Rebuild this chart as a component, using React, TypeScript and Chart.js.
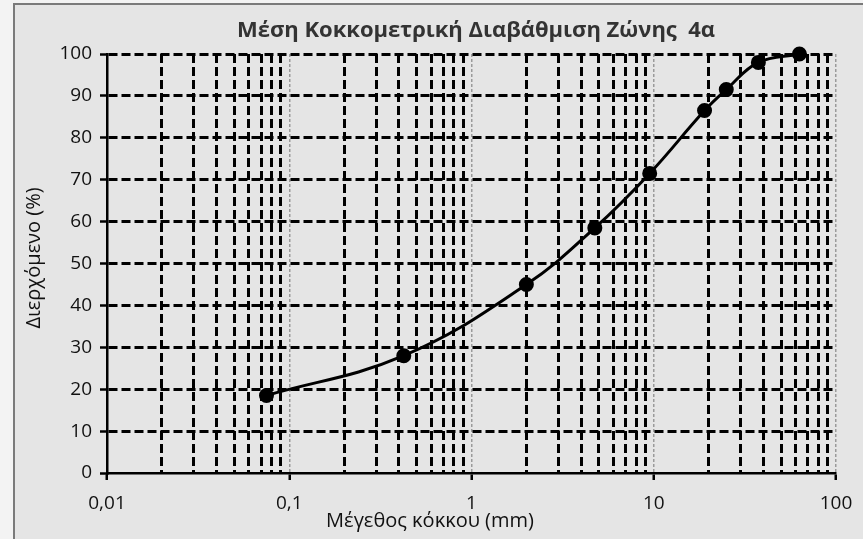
import { useEffect, useRef } from "react";
import { Chart, registerables } from "chart.js";

Chart.register(...registerables);

// ---- data ----
const sieveSizes = [0.075, 0.425, 2, 4.75, 9.5, 19, 25, 37.5, 63];
const passing = [18.5, 28, 45, 58.5, 71.5, 86.5, 91.5, 98, 100];

const decades = [0.01, 0.1, 1, 10, 100];
const decadeLabels = ["0,01", "0,1", "1", "10", "100"];
const minorMultipliers = [2, 3, 4, 5, 6, 7, 8, 9];
const yTickValues = [0, 10, 20, 30, 40, 50, 60, 70, 80, 90, 100];

const titleText = "Μέση Κοκκομετρική Διαβάθμιση Ζώνης  4α";
const xTitleText = "Μέγεθος κόκκου (mm)";
const yTitleText = "Διερχόμενο (%)";

const FONT = "'Open Sans', 'Noto Sans', sans-serif";

type TickDef = { value: number; major: boolean; label: string };

function buildXTicks(): TickDef[] {
  const out: TickDef[] = [];
  decades.forEach((d, i) => {
    out.push({ value: d, major: true, label: decadeLabels[i] });
    if (i < decades.length - 1) {
      minorMultipliers.forEach((m) => {
        out.push({ value: +(d * m).toPrecision(6), major: false, label: "" });
      });
    }
  });
  return out;
}

const decoPlugin = {
  id: "deco",
  beforeDraw(chart: any) {
    const { ctx, width, height } = chart;
    ctx.save();
    ctx.fillStyle = "#f3f3f3";
    ctx.fillRect(0, 0, width, height);
    ctx.fillStyle = "#e5e5e5";
    ctx.fillRect(14, 4, width - 14, height - 4);
    ctx.strokeStyle = "#7a7a7a";
    ctx.lineWidth = 2;
    ctx.beginPath();
    ctx.moveTo(14, height);
    ctx.lineTo(14, 4);
    ctx.lineTo(width, 4);
    ctx.stroke();
    ctx.restore();
  },
  afterDraw(chart: any) {
    const { ctx } = chart;
    ctx.save();
    ctx.fillStyle = "#333";
    ctx.textAlign = "center";
    ctx.textBaseline = "middle";
    ctx.font = `bold 22px ${FONT}`;
    ctx.fillText(titleText, 476, 31);
    ctx.font = `20px ${FONT}`;
    ctx.fillStyle = "#111";
    ctx.fillText(xTitleText, 430, 521);
    ctx.translate(34, 258);
    ctx.rotate(-Math.PI / 2);
    ctx.font = `20px ${FONT}`;
    ctx.fillText(yTitleText, 0, 0);
    ctx.restore();
  },
};

export default function App() {
  const canvasRef = useRef<HTMLCanvasElement | null>(null);

  useEffect(() => {
    document.body.style.margin = "0";
    const canvas = canvasRef.current;
    if (!canvas) return;
    const xTicks = buildXTicks();

    const chart = new Chart(canvas, {
      type: "scatter",
      data: {
        datasets: [
          {
            data: sieveSizes.map((x, i) => ({ x, y: passing[i] })),
            showLine: true,
            borderColor: "#000",
            backgroundColor: "#000",
            borderWidth: 3,
            pointRadius: 6,
            pointHoverRadius: 6,
            pointBackgroundColor: "#000",
            pointBorderColor: "#000",
            tension: 0.4,
            clip: false,
          } as any,
        ],
      },
      options: {
        responsive: false,
        animation: false,
        devicePixelRatio: 1,
        layout: { padding: { left: 14, right: 27, top: 54, bottom: 0 } },
        plugins: {
          legend: { display: false },
          tooltip: { enabled: false },
          title: { display: false },
        },
        scales: {
          x: {
            type: "logarithmic",
            min: 0.01,
            max: 100,
            afterBuildTicks: (scale: any) => {
              scale.ticks = xTicks.map((t) => ({ value: t.value, major: t.major, label: t.label }));
            },
            afterFit: (scale: any) => {
              scale.height = 66;
              scale.paddingLeft = 0;
              scale.paddingRight = 0;
            },
            ticks: {
              autoSkip: false,
              maxRotation: 0,
              minRotation: 0,
              padding: 12,
              color: "#111",
              font: { family: FONT, size: 19 },
              callback: (_v: any, i: number) => (xTicks[i] ? xTicks[i].label : ""),
            },
            grid: {
              drawOnChartArea: true,
              color: (c: any) => {
                if (c.index === 0) return "rgba(0,0,0,0)";
                return xTicks[c.index] && xTicks[c.index].major ? "#9a9a9a" : "#000";
              },
              lineWidth: (c: any) => (xTicks[c.index] && xTicks[c.index].major ? 1.5 : 3),
              tickColor: (c: any) => (xTicks[c.index] && xTicks[c.index].major ? "#000" : "rgba(0,0,0,0)"),
              tickLength: 7,
              tickWidth: 2.5,
            },
            border: {
              display: true,
              color: "#000",
              width: 2.5,
              dash: (c: any) => (xTicks[c.index] && xTicks[c.index].major ? [3, 2] : [9, 4]),
            } as any,
          },
          y: {
            type: "linear",
            min: 0,
            max: 100,
            afterBuildTicks: (scale: any) => {
              scale.ticks = yTickValues.map((v) => ({ value: v }));
            },
            afterFit: (scale: any) => {
              scale.width = 93;
              scale.paddingTop = 0;
              scale.paddingBottom = 0;
            },
            ticks: {
              padding: 8,
              color: "#111",
              font: { family: FONT, size: 19 },
              callback: (v: any) => String(v),
            },
            grid: {
              color: (c: any) => (c.index === 0 ? "rgba(0,0,0,0)" : "#000"),
              lineWidth: 3,
              tickColor: "#000",
              tickLength: 7,
              tickWidth: 2.5,
            },
            border: {
              display: true,
              color: "#000",
              width: 2.5,
              dash: [9, 4],
            } as any,
          },
        },
      },
      plugins: [decoPlugin],
    });

    return () => chart.destroy();
  }, []);

  return (
    <canvas
      ref={canvasRef}
      width={863}
      height={539}
      style={{ display: "block", width: 863, height: 539 }}
    />
  );
}
